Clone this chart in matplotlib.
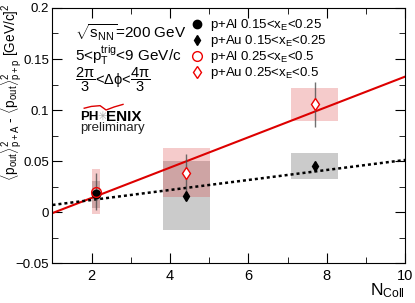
import numpy as np
import matplotlib
matplotlib.use("Agg")
import matplotlib.pyplot as plt
from matplotlib.lines import Line2D

plt.rcParams['font.family'] = ['Liberation Sans', 'DejaVu Sans']
plt.rcParams['mathtext.fontset'] = 'custom'
plt.rcParams['mathtext.rm'] = 'Liberation Sans'
plt.rcParams['mathtext.it'] = 'Liberation Sans'
plt.rcParams['mathtext.bf'] = 'Liberation Sans:bold'

# p+Al points (one Ncoll value)
al_x = [2.11]
al_lo_y = [0.018]      # 0.15<xE<0.25
al_lo_err = [0.004]
al_lo_sys = [(0.004, 0.030)]
al_hi_y = [0.020]      # 0.25<xE<0.5
al_hi_err = [0.018]
al_hi_sys = [(-0.002, 0.042)]
al_box_w = 0.2

# p+Au points
au_x = [4.42, 7.70]
au_lo_y = [0.0157, 0.045]
au_lo_err = [0.004, 0.0035]
au_lo_sys = [(-0.018, 0.050), (0.032, 0.0575)]
au_hi_y = [0.0386, 0.1056]
au_hi_err = [0.018, 0.022]
au_hi_sys = [(0.015, 0.0625), (0.089, 0.122)]
au_box_w = 1.2

# linear fits (intercept, slope)
fit_hi = (-0.0159, 0.01486)
fit_lo = (0.0020, 0.0049)

fig = plt.figure(figsize=(4.15, 3.03), dpi=100)
ax = fig.add_axes([0.1265, 0.132, 0.8495, 0.8416])

grey = (0.55, 0.55, 0.55, 0.45)
pink = (0.85, 0.2, 0.2, 0.25)

def boxes(xs, sys, w, col):
    lo = [s[0] for s in sys]
    hi = [s[1] for s in sys]
    ax.bar(xs, np.array(hi) - np.array(lo), bottom=lo, width=w, color=col,
           linewidth=0, zorder=1)

boxes(al_x, al_lo_sys, al_box_w, grey)
boxes(au_x, au_lo_sys, au_box_w, grey)
boxes(al_x, al_hi_sys, al_box_w, pink)
boxes(au_x, au_hi_sys, au_box_w, pink)

xf = np.array([1.0, 10.0])
ax.plot(xf, fit_hi[0] + fit_hi[1] * xf, color='#dd0000', lw=1.5, zorder=2)
ax.plot(xf, fit_lo[0] + fit_lo[1] * xf, color='black', lw=1.8,
        linestyle=(0, (1.2, 1.2)), zorder=2)

ecol = (0.3, 0.3, 0.3, 0.8)
for xs, ys, es in [(al_x, al_hi_y, al_hi_err), (au_x, au_hi_y, au_hi_err),
                   (al_x, al_lo_y, al_lo_err), (au_x, au_lo_y, au_lo_err)]:
    ax.errorbar(xs, ys, yerr=es, fmt='none', ecolor=ecol, elinewidth=1,
                capsize=0, zorder=3)

ax.plot(al_x, al_lo_y, 'o', color='black', ms=6, zorder=4)
ax.plot(au_x, au_lo_y, 'd', color='black', ms=5, zorder=4)
ax.plot(al_x, al_hi_y, 'o', mfc='none', mec='#ee0000', mew=1, ms=7, zorder=5)
ax.plot(au_x, au_hi_y, 'd', mfc='white', mec='#ee0000', mew=1, ms=6, zorder=5)

ax.set_xlim(1, 10)
ax.set_ylim(-0.05, 0.2)
ax.set_xticks([2, 4, 6, 8, 10])
ax.set_xticks([3, 5, 7, 9], minor=True)
ax.set_yticks([-0.05, 0, 0.05, 0.1, 0.15, 0.2])
ax.set_yticklabels(['\u22120.05', '0', '0.05', '0.1', '0.15', '0.2'])
ax.set_yticks(np.arange(-0.025, 0.2, 0.05), minor=True)
ax.tick_params(which='both', direction='in', top=True, right=True,
               labelsize=9.5)
ax.tick_params(which='major', length=7)
ax.tick_params(which='minor', length=4)
ax.tick_params(axis='y', which='major', pad=2.5)
ax.tick_params(axis='x', which='major', pad=4, labelsize=10.5)

ax.set_xlabel('N$_{\\mathrm{Coll}}$', loc='right', fontsize=12.5, labelpad=-1)
ax.set_ylabel(r'$\langle$p$_{\mathrm{out}}$$\rangle^{2}_{\mathrm{p+A}}$ - '
              r'$\langle$p$_{\mathrm{out}}$$\rangle^{2}_{\mathrm{p+p}}$ [GeV/c]$^{2}$',
              loc='top', fontsize=9.8)
ax.yaxis.set_label_coords(-0.08, 1.02)

handles = [
    Line2D([], [], marker='o', ls='none', color='black', ms=6),
    Line2D([], [], marker='d', ls='none', color='black', ms=5),
    Line2D([], [], marker='o', ls='none', mfc='none', mec='#ee0000', ms=7),
    Line2D([], [], marker='d', ls='none', mfc='none', mec='#ee0000', ms=6),
]
labels = ['p+Al 0.15<x$_{\\mathrm{E}}$<0.25', 'p+Au 0.15<x$_{\\mathrm{E}}$<0.25',
          'p+Al 0.25<x$_{\\mathrm{E}}$<0.5', 'p+Au 0.25<x$_{\\mathrm{E}}$<0.5']
ax.legend(handles, labels, loc='upper left', bbox_to_anchor=(0.365, 1.0),
          frameon=False, prop={'size': 9.5}, handlelength=1, handletextpad=0.5,
          labelspacing=0.0, borderpad=0.2)

ax.text(0.065, 0.905, r'$\sqrt{\mathrm{s}_{\mathrm{NN}}}$=200 GeV',
        transform=ax.transAxes, fontsize=11, va='center')
ax.text(0.065, 0.815, '5<p$_{\\mathrm{T}}^{\\mathrm{trig}}$<9 GeV/c',
        transform=ax.transAxes, fontsize=11, va='center')
ax.text(0.065, 0.718, r'$\dfrac{2\pi}{3}$<$\Delta\phi$<$\dfrac{4\pi}{3}$',
        transform=ax.transAxes, fontsize=10.5, va='center')

# PHENIX logo
ax.text(0.078, 0.573, 'PH', transform=ax.transAxes, fontsize=9.5,
        fontweight='bold', va='center')
ax.text(0.141, 0.573, '\u2733', transform=ax.transAxes, fontsize=8.5,
        color='#aaaaaa', va='center', ha='center', family='DejaVu Sans')
ax.text(0.153, 0.573, 'ENIX', transform=ax.transAxes, fontsize=11,
        fontweight='bold', va='center')
wing_x = [0.090, 0.110, 0.135, 0.152, 0.175, 0.200]
wing_y = [0.607, 0.614, 0.617, 0.600, 0.612, 0.622]
ax.plot(wing_x, wing_y, color='#dd0000', lw=1, transform=ax.transAxes)
ax.text(0.078, 0.528, 'preliminary', transform=ax.transAxes, fontsize=9.5,
        va='center', color='#222222')

fig.savefig('out.png', dpi=100)
